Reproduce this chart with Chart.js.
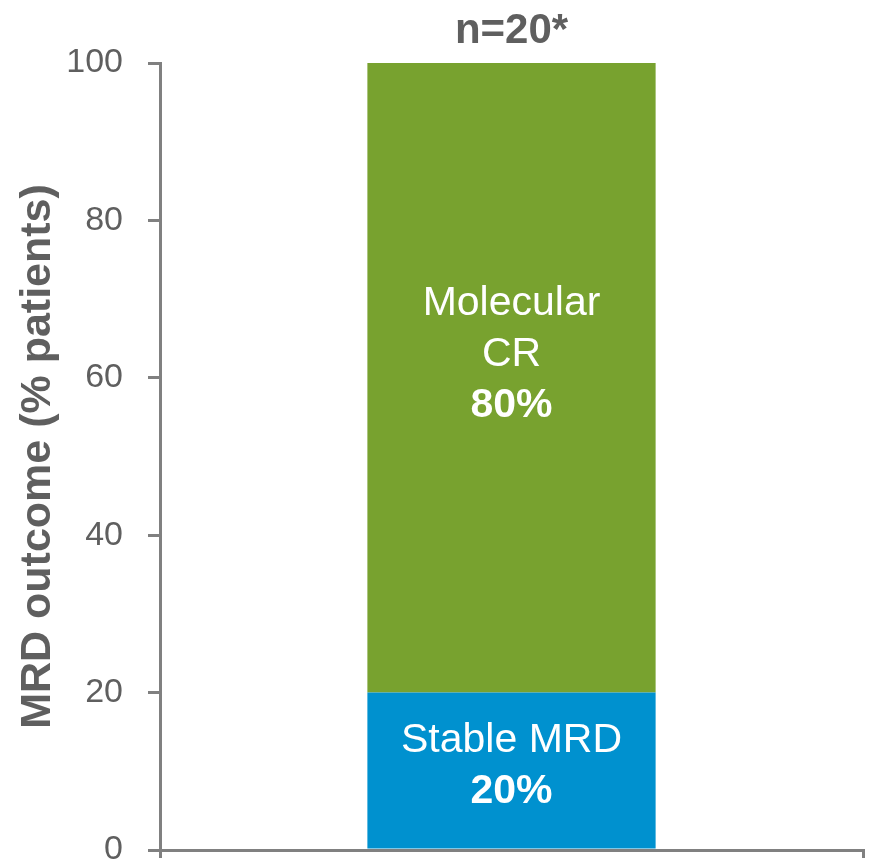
<!DOCTYPE html>
<html>
<head>
<meta charset="utf-8">
<script src="https://cdn.jsdelivr.net/npm/chart.js@4"></script>
<style>
  html, body { margin: 0; padding: 0; background: #ffffff; }
  #wrap { width: 870px; height: 864px; }
</style>
</head>
<body>
<div id="wrap"><canvas id="mrdChart"></canvas></div>
<script>
// Dados do gráfico
const categories = [''];
const stableMrd = [20];
const molecularCr = [80];
const stableLabel = ['Stable MRD', '20%'];
const molecularLabel = ['Molecular', 'CR', '80%'];
const chartTitle = 'n=20*';
const yTicks = [0, 20, 40, 60, 80, 100];

const textGray = '#5f5f5f';
const lineGray = '#808080';
const fontFamily = 'Arial, "Liberation Sans", sans-serif';

// Plugin para o título centrado sobre a área do gráfico e os rótulos dentro das barras
const barLabels = {
    id: 'barLabels',
    afterDatasetsDraw(chart) {
        const ctx = chart.ctx;
        const area = chart.chartArea;
        ctx.save();
        ctx.fillStyle = textGray;
        ctx.textAlign = 'center';
        ctx.textBaseline = 'alphabetic';
        ctx.font = 'bold 42px ' + fontFamily;
        ctx.fillText(chartTitle, (area.left + area.right) / 2, 43);

        ctx.fillStyle = '#ffffff';
        chart.data.datasets.forEach((ds, i) => {
            const el = chart.getDatasetMeta(i).data[0];
            if (!el) return;
            const mid = (el.y + el.base) / 2;
            ds.textLines.forEach((line, j) => {
                const bold = j === ds.textLines.length - 1;
                ctx.font = (bold ? 'bold ' : '') + '41px ' + fontFamily;
                ctx.fillText(line, el.x, mid + ds.textShift + j * 51);
            });
        });
        ctx.restore();
    }
};

const ctx = document.getElementById('mrdChart').getContext('2d');
new Chart(ctx, {
    type: 'bar',
    data: {
        labels: categories,
        datasets: [
            {
                label: 'Stable MRD',
                data: stableMrd,
                backgroundColor: '#0091cf',
                textLines: stableLabel,
                textShift: -19
            },
            {
                label: 'Molecular CR',
                data: molecularCr,
                backgroundColor: '#78a22f',
                textLines: molecularLabel,
                textShift: -63
            }
        ]
    },
    options: {
        responsive: true,
        maintainAspectRatio: false,
        animation: false,
        layout: { padding: { left: 0, right: 7, top: 63, bottom: 0 } },
        datasets: {
            bar: { categoryPercentage: 1, barPercentage: 0.41, borderWidth: 0 }
        },
        plugins: {
            legend: { display: false },
            tooltip: { enabled: false },
            title: { display: false }
        },
        scales: {
            x: {
                stacked: true,
                border: { color: lineGray, width: 3 },
                grid: { drawOnChartArea: false, color: lineGray, lineWidth: 3, tickLength: 8 },
                ticks: { display: false },
                afterFit: scale => { scale.height = 14; }
            },
            y: {
                stacked: true,
                min: 0,
                max: 100,
                afterBuildTicks: scale => { scale.ticks = yTicks.map(v => ({ value: v })); },
                border: { color: lineGray, width: 3 },
                grid: { drawOnChartArea: false, color: lineGray, lineWidth: 3, tickLength: 12 },
                ticks: {
                    color: textGray,
                    padding: 25,
                    font: { family: fontFamily, size: 34 }
                },
                title: {
                    display: true,
                    text: 'MRD outcome (% patients)',
                    color: textGray,
                    font: { family: fontFamily, size: 43, weight: 'bold', lineHeight: 1.2 },
                    padding: { top: 12, bottom: 0 }
                },
                afterFit: scale => {
                    scale.width = 160;
                    scale.paddingTop = 0;
                    scale.paddingBottom = 0;
                }
            }
        }
    },
    plugins: [barLabels]
});
</script>
</body>
</html>
